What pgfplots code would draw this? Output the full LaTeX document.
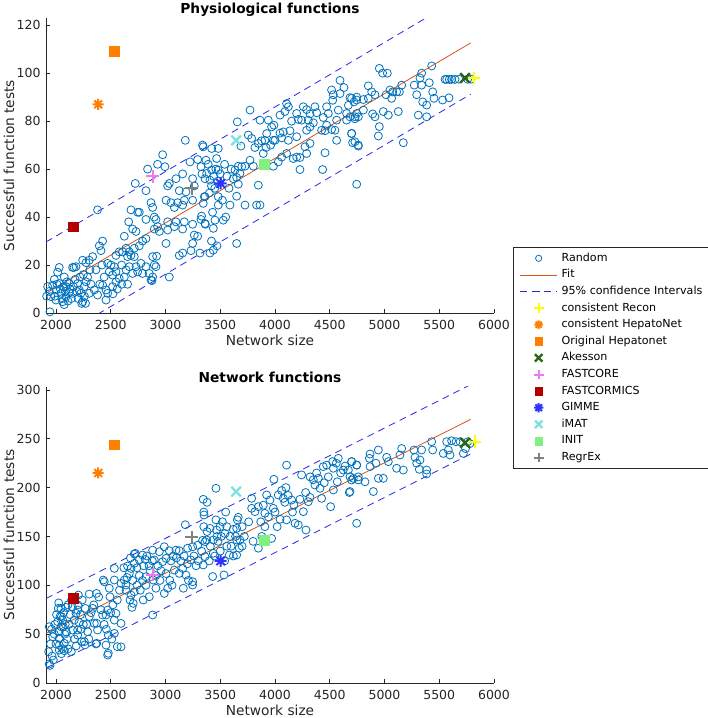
\documentclass[border=0pt]{standalone}
\usepackage{pgfplots}
\pgfplotsset{compat=1.18}
\usepackage{pgfplotstable}
\usepackage{fontspec}
\setmainfont{DejaVu Sans}
\definecolor{mblue}{RGB}{0,114,189}
\definecolor{morange}{RGB}{217,83,25}
\definecolor{ciblue}{RGB}{40,40,230}
\definecolor{axgray}{RGB}{38,38,38}
\definecolor{cyellow}{RGB}{255,255,0}
\definecolor{corange}{RGB}{255,128,0}
\definecolor{akgreen}{RGB}{40,100,20}
\definecolor{fcpink}{RGB}{240,120,240}
\definecolor{fmred}{RGB}{178,0,0}
\definecolor{gblue}{RGB}{50,50,255}
\definecolor{icyan}{RGB}{128,224,224}
\definecolor{igreen}{RGB}{128,240,128}
\definecolor{rgray}{RGB}{128,128,128}

\pgfdeclareplotmark{ast8}{%
  \pgfpathmoveto{\pgfqpoint{-\pgfplotmarksize}{0pt}}\pgfpathlineto{\pgfqpoint{\pgfplotmarksize}{0pt}}%
  \pgfpathmoveto{\pgfqpoint{0pt}{-\pgfplotmarksize}}\pgfpathlineto{\pgfqpoint{0pt}{\pgfplotmarksize}}%
  \pgfpathmoveto{\pgfqpoint{-.707\pgfplotmarksize}{-.707\pgfplotmarksize}}\pgfpathlineto{\pgfqpoint{.707\pgfplotmarksize}{.707\pgfplotmarksize}}%
  \pgfpathmoveto{\pgfqpoint{-.707\pgfplotmarksize}{.707\pgfplotmarksize}}\pgfpathlineto{\pgfqpoint{.707\pgfplotmarksize}{-.707\pgfplotmarksize}}%
  \pgfusepathqstroke}
\pgfdeclareplotmark{bigx}{%
  \pgfpathmoveto{\pgfqpoint{-\pgfplotmarksize}{-\pgfplotmarksize}}\pgfpathlineto{\pgfqpoint{\pgfplotmarksize}{\pgfplotmarksize}}%
  \pgfpathmoveto{\pgfqpoint{-\pgfplotmarksize}{\pgfplotmarksize}}\pgfpathlineto{\pgfqpoint{\pgfplotmarksize}{-\pgfplotmarksize}}%
  \pgfusepathqstroke}

\pgfplotstableread{
x y
3181 72
3339 70
2974 66
2928 62
2995 61
2837 60
2822 51
2724 54
2380 43
3224 63
3294 64
3324 61
3333 58
3157 58
3096 56
3035 54
3020 53
3248 56
3263 53
3187 50.5
3126 51
3050 46
3111 46
3172 47
3157 45
3081 44
3248 47
3355 48.5
3005 47
2868 46
2883 44
2685 43
2746 42
2761 42
2898 40
2822 39
2913 39
2928 36
2944 34
2664 38
2700 35
2731 34
2898 35
2624 32
2822 31
2791 30
2761 28
3096 38
3020 38
3157 35
3172 38
3248 37
3263 32.5
3324 39
3364 37
3294 32
3248 29
3005 29
2715 27
2670 25.5
2639 27
2609 25.5
2685 24
2715 23.5
2654 23.5
2578 25.5
2548 24
2426 30
2396 28
2411 26
2335 23.5
2304 22
2244 22
2274 21
2152 19
2183 19.3
2165 19
2030 19
2015 17
2076 15
1985 14
2030 12.3
1970 11.6
2091 11
2122 12.3
2198 12.3
2259 11
2213 9.6
2219 15
2304 8.2
2380 7.5
2350 9.6
2426 11.6
2457 9.6
2472 8.2
2517 11
2548 13
2578 14.4
2624 15
2654 12
2502 20
2472 20.7
2533 19.3
2517 15.8
2548 17.2
2487 17.2
2670 19.3
2731 19.3
2776 20.7
2822 19.3
2791 16.5
2746 17.2
2700 16.5
2883 23.5
2898 20
2913 19.3
2852 16.5
2883 15
2868 13.7
3035 15
3126 24
3157 25
3233 26
3020 34.6
3081 36
1924 11
1939 9
2000 9.6
2046 8.2
2061 4.7
2000 5.4
1954 6.8
2091 6.8
2152 8.2
2244 4.7
2228 8.2
2457 5.4
2289 15
2365 18
1945 0.5
1915 7
2235 4
2110 5
2120 8.5
2075 3.5
2877 13.5
2919 23.7
1990 7
2010 12
2040 10
2055 6
2070 11
2085 9
2100 13
2130 10
2140 6
2160 11
2175 14
2190 9
2205 6
2260 7
2275 13
2320 12
2310 18
2250 16
2270 4
2400 12
2420 20
2440 15
2520 8
2560 10
2600 20
2640 18
2600 12
3400 50
3420 53
3440 57
3460 60
3480 55
3500 58
3540 62
3560 57
3580 52
3600 60
3390 62
3450 52
3520 47
3550 40
3430 42
3420 30
3470 28
4594 97
4630 94
4517 93
4533 91
4594 91.5
4527 88.7
4685 89.8
4721 88
4746 90
4670 86.6
4106 87.3
4122 86
4091 84
4259 86
4289 84.8
4365 86
4380 83.5
4320 83
4472 86
4487 83.2
4441 81.5
4578 84.6
4654 83.2
4730 81
4746 83.2
4654 80.4
4563 80.4
4198 83.2
4213 80.7
4152 80
4243 80.4
4304 80.4
4320 77.6
4289 76.2
4350 79.3
4426 76.2
4457 76
4517 76.5
4548 76.2
4472 78.3
4046 82.5
3990 78.3
3969 77.6
3924 74.8
4046 75
4076 75.5
4137 76
4198 73.5
4320 70.7
4274 69.3
4198 65
4167 64.4
4228 64.8
4289 66.5
4457 66.8
4228 59.8
4435 59.8
4563 72
4700 74.8
4730 71.4
4761 70
4746 53.7
3939 80.4
3863 80.4
3772 84.6
3656 79.7
3756 74.2
3787 72.8
3817 69
3848 70.7
3878 71.8
3908 72
3985 72
4000 72
4061 73
3960 70
4122 72
3918 69
3893 66.5
4061 65
4106 66.5
4030 63
3985 61.2
3772 63.7
3802 61.2
3726 61.2
3696 61
3665 61.2
3635 59.6
3680 58.2
3650 56.5
3619 56
3467 64.4
3482 59.6
3422 59.6
3376 58.2
3361 56
3406 55.4
3345 69.3
3422 68.6
3482 68.6
3370 63.7
3689 69.6
3848 53.3
3665 53.7
3650 48.7
3726 45
3589 45
3482 48.5
3361 48.5
3345 45.7
3482 45
3832 45
3863 45
3330 40.4
3361 37.3
3452 38.7
3528 38.7
3437 35.3
3650 29
3437 26.2
3406 25
3315 25
4953 102
4983 100
5026 100
5431 103
5339 100
5324 98
5272 95
5339 95
5409 96
5553 97.4
5568 97.4
5592 97.4
5613 97.4
5644 97.4
5680 97.5
5760 97.5
5790 97.5
5157 95
5136 92.2
5111 92.2
5075 92.2
5050 93
5014 91
5065 89.5
4852 94.7
4883 92.2
4913 91
4852 89.5
4807 89
4746 88.8
4700 89.5
4807 84.6
4731 81.8
4761 81.8
4685 81.8
4892 83
4913 81.8
4989 84
5035 82.5
5126 84
5294 91
5349 88
5385 86.7
5440 92.2
5452 89.5
5309 82.5
5385 81.8
5531 88.8
5589 89.7
4953 77.7
4944 73.8
4700 74.9
4709 71
4761 69.6
5172 71
}\physrand

\pgfplotstableread{
x y
3181 162
3339 146
3294 141
3248 139.5
3202 138
3126 135.4
3096 136
3035 135.4
2989 139.5
2944 134.4
2883 136
2791 131
2815 126.5
2761 126
2715 132
2715 122.5
2685 117.3
2654 119.7
2670 112.2
2898 126
2974 124.2
3005 127.6
3081 115.6
3126 112.2
3157 117.3
3187 110.5
3248 103.7
3248 100.3
3163 97
3020 97
2989 91.7
2913 97
2852 88.3
2889 105.4
2822 108.8
2797 85
2715 93.4
2685 90
2676 85
2706 81.5
2694 77.4
2639 100.3
2594 102
2624 105.4
2533 105.4
2533 117.3
2724 132.7
2441 103.7
2487 97
2493 88.3
2472 74.7
2457 69.6
2548 71.3
2594 61
2533 50.8
2594 37
2457 38.8
2472 28.6
2365 40
2380 54.2
2426 69.6
2350 61
2335 76.4
2304 68
2268 76.4
2198 74.7
2183 71.3
2167 64.4
2198 54.2
2259 42.3
2304 91
2371 91.7
2432 105.4
2091 77.4
2046 76.4
2037 68
2061 64.4
2015 62.8
2046 57.6
2030 52.5
1939 57.6
1970 47.4
2030 45.7
2030 38.8
2076 40.6
2030 33.7
2076 33
1964 27.6
1976 23.5
1939 19.4
1945 18
1933 32
2152 54.2
2198 49
2289 52.5
2533 64.4
2883 69.6
2235 42.3
2265 39
2372 40.6
2478 49
2478 30.4
2560 37.2
2372 61.1
2021 76.4
2067 57.6
2143 85
2110 80
2200 80
2225 70
2250 60
2120 60
2100 45
2080 50
2000 40
1985 50
2050 30
2060 35
2110 35
2140 32
2230 55
2210 62
1950 40
1960 55
1990 60
2005 70
2025 82
2050 68
2070 72
2085 60
2095 52
2130 70
2150 78
2170 45
2185 38
2205 90
2240 85
2280 60
2300 45
2320 72
2345 80
2390 88
2410 75
2440 60
2460 55
2500 72
2510 45
2520 80
2560 85
2580 95
2761 110
2791 105
2822 100
2913 110
2959 115
3005 112
2850 120
2700 105
2740 100
2640 95
2620 118
2650 108
2680 128
2740 118
2770 95
2800 120
2830 130
2860 115
2880 125
2930 120
2950 105
3050 125
3070 130
3100 128
3140 125
3170 130
3200 122
3230 126
3260 130
3280 120
3300 125
3040 105
3060 100
3210 105
3330 135
3350 160
3380 155
3410 140
3450 130
3470 150
3510 150
3560 160
3590 150
3600 140
3640 150
3700 140
3720 150
3350 175
3380 185
3550 175
4106 223
3990 208.5
4100 200
4061 197
4030 192.5
4076 189
4152 187.3
4228 188
4173 182
4304 185.6
4259 175.4
4426 189
4508 180.5
4243 213
4320 211
4350 208
4396 209.5
4365 202.7
4441 221.5
4472 223
4527 226.6
4578 230
4533 219.8
4624 218
4670 218
4700 226.6
4746 223
4761 211
4715 209.5
4679 195
4569 206
4533 197.6
4487 211
4411 199.3
3985 178.8
4046 167.6
4106 167
4183 163.5
4213 161.8
4283 156.6
3893 182
3848 180.5
3817 175.4
3787 178.8
3787 189
3924 192.5
3954 187.3
3908 173.7
3908 160
3848 138
3969 148
3665 169.6
3656 167
3650 158.3
3619 157.3
3650 146.4
3680 146.4
3674 138
3650 131
3583 131
3498 160
3543 153
3467 156.6
3437 146.4
3406 158.3
3376 146.4
3361 144.7
3461 167
3345 188
3352 172
3461 199.3
3437 132.8
3361 129.3
3345 120.8
3534 110.6
3431 109
4090 185
4120 192
4000 175
3940 170
4020 160
3870 165
3760 165
3700 160
3560 140
3620 130
3500 135
3540 125
3400 125
3480 145
3520 165
3880 150
3800 145
4160 175
4280 195
4320 190
4380 215
4450 205
4600 215
4560 225
4640 222
5431 247
5440 238.5
5568 247
5613 248
5653 247
5583 238.5
5598 233.4
5537 235
5720 235
5339 238.5
5269 238.5
5279 231
5324 228.3
5294 225
5318 218.7
5385 218
5385 214
5157 240
5141 233.4
5020 231
5035 226.6
4944 238.5
4868 234.4
4862 230
4922 225
4868 221.5
4746 223.2
4700 226.6
4685 211.2
4700 207.8
4761 207.8
4822 206
4944 209.5
4989 209.5
5111 219.8
5172 218
4898 196
4746 163.5
4685 196
5690 247
5760 247
5740 240
5780 245
}\netrand

\pgfplotsset{
  mystyle/.style={
    scale only axis, width=448pt,
    xmin=1909, xmax=6000,
    axis lines*=left,
    axis line style={axgray, line width=0.6pt},
    tick style={axgray, line width=0.6pt},
    tick align=inside, major tick length=4pt,
    xtick={2000,2500,...,6000},
    ticklabel style={font=\fontsize{12.5}{14}\selectfont, text=axgray},
    /pgf/number format/assume math mode=true,
    /pgf/number format/1000 sep={},
    xticklabel style={yshift=-3.5pt},
    yticklabel style={xshift=-2pt},
    label style={font=\fontsize{13.75}{16}\selectfont, text=axgray},
    title style={font=\fontsize{13.75}{16}\selectfont\bfseries, at={(axis description cs:0.5,1)}, anchor=base, yshift=-2pt},
    xlabel={Network size}, ylabel={Successful function tests},
    xlabel style={at={([yshift=-27pt]axis description cs:0.5,0)}, anchor=center},
    ylabel style={at={([xshift=-37pt]axis description cs:0,0.5)}, anchor=center},
    legend image code/.code={\draw[mark repeat=2,mark phase=2,##1] plot coordinates {(0pt,0pt) (18.5pt,0pt) (37pt,0pt)};},
    rnd/.style={only marks, mark=o, mark size=4pt, draw=mblue, line width=0.8pt},
    fitl/.style={morange, line width=0.8pt, no marks},
    cil/.style={ciblue, line width=0.8pt, dash pattern=on 7pt off 5pt, no marks},
    sp/.style={only marks, line width=2pt},
    xm/.style={only marks, mark=bigx, mark size=4.8pt, line width=2.3pt},
    sq/.style={only marks, line width=0.4pt, mark=square*, mark size=4.9pt},
  }
}

\begin{document}
\begin{tikzpicture}
\useasboundingbox (0pt,0pt) rectangle (708pt,718pt);
\begin{axis}[mystyle, at={(46pt,405pt)}, anchor=south west, height=295pt,
  ymin=0, ymax=123, ytick={0,20,...,120},
  title={Physiological functions},
  legend style={at={(1.0424,0.2237)}, anchor=north west, draw=axgray, line width=0.6pt,
    font=\fontsize{11.1}{13}\selectfont, text=black,
    inner xsep=6.5pt, inner ysep=5.5pt, row sep=5.6pt, column sep=4pt,
    nodes={inner sep=0pt, text height=8.5pt, text depth=2.5pt, anchor=west}},
  legend image post style={mark options={scale=0.78}},
  legend cell align=left]
\addplot[rnd] table {\physrand};
\addlegendentry{Random}
\addplot[fitl] coordinates {(1909,8.2) (5787,112.6)};
\addlegendentry{Fit}
\addplot[cil] coordinates {(1909,29.6) (5787,134.0)};
\addlegendentry{95\% confidence Intervals}
\addplot[cil, forget plot] coordinates {(1909,-13.2) (5787,91.2)};
\addplot[sp, mark=+, mark size=6.3pt, cyellow, line width=2.2pt] coordinates {(5817,98)};
\addlegendentry{consistent Recon}
\addplot[sp, mark=ast8, mark size=5.5pt, corange] coordinates {(2386,87)};
\addlegendentry{consistent HepatoNet}
\addplot[sq, corange] coordinates {(2530,109)};
\addlegendentry{Original Hepatonet}
\addplot[xm, akgreen] coordinates {(5735,98)};
\addlegendentry{Akesson}
\addplot[sp, mark=+, mark size=6.3pt, fcpink] coordinates {(2883,57)};
\addlegendentry{FASTCORE}
\addplot[sq, fmred] coordinates {(2160,36)};
\addlegendentry{FASTCORMICS}
\addplot[sp, mark=ast8, mark size=6pt, gblue] coordinates {(3504,54)};
\addlegendentry{GIMME}
\addplot[xm, icyan] coordinates {(3645,72)};
\addlegendentry{iMAT}
\addplot[sq, igreen] coordinates {(3902,62)};
\addlegendentry{INIT}
\addplot[sp, mark=+, mark size=6.3pt, rgray] coordinates {(3240,52)};
\addlegendentry{RegrEx}
\end{axis}

\begin{axis}[mystyle, at={(46pt,35pt)}, anchor=south west, height=296pt,
  ymin=0, ymax=303, ytick={0,50,...,300},
  title={Network functions}]
\addplot[rnd] table {\netrand};
\addplot[fitl] coordinates {(1909,50.8) (5787,269.9)};
\addplot[cil] coordinates {(1909,86.5) (5787,305.4)};
\addplot[cil] coordinates {(1909,15.3) (5787,234.4)};
\addplot[sp, mark=+, mark size=6.3pt, cyellow, line width=2.2pt] coordinates {(5826,247)};
\addplot[sp, mark=ast8, mark size=5.5pt, corange] coordinates {(2386,215)};
\addplot[sq, corange] coordinates {(2530,244)};
\addplot[xm, akgreen] coordinates {(5735,246)};
\addplot[sp, mark=+, mark size=6.3pt, fcpink] coordinates {(2883,111)};
\addplot[sq, fmred] coordinates {(2160,87)};
\addplot[sp, mark=ast8, mark size=6pt, gblue] coordinates {(3504,125)};
\addplot[xm, icyan] coordinates {(3645,196)};
\addplot[sq, igreen] coordinates {(3902,146)};
\addplot[sp, mark=+, mark size=6.3pt, rgray] coordinates {(3240,149)};
\end{axis}
\end{tikzpicture}
\end{document}
